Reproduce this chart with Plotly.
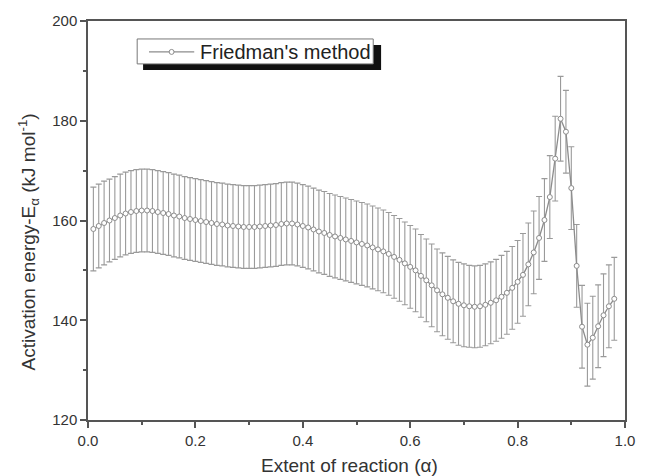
import plotly.graph_objects as go

alpha = [round(0.01 * k, 2) for k in range(1, 99)]

energy = [
    158.3, 158.9, 159.5, 160.0, 160.5, 161.0, 161.4, 161.7, 161.9, 162.0,
    162.0, 161.9, 161.7, 161.5, 161.3, 161.0, 160.8, 160.5, 160.3, 160.1,
    159.9, 159.7, 159.5, 159.3, 159.2, 159.0, 158.9, 158.8, 158.7, 158.7,
    158.7, 158.8, 158.9, 159.0, 159.1, 159.3, 159.4, 159.4, 159.2, 158.9,
    158.6, 158.2, 157.8, 157.5, 157.1, 156.8, 156.5, 156.2, 155.9, 155.6,
    155.3, 155.0, 154.6, 154.2, 153.8, 153.3, 152.7, 152.1, 151.4, 150.7,
    150.0, 148.9, 148.0, 147.0, 146.0, 145.2, 144.5, 143.8, 143.3, 143.0,
    142.8, 142.7, 142.8, 143.1, 143.5, 144.0, 144.7, 145.5, 146.5, 147.7,
    149.1, 151.2, 153.6, 156.5, 160.1, 164.7, 172.4, 180.4, 177.8, 166.5,
    150.9, 138.7, 135.1, 136.5, 138.8, 141.0, 142.8, 144.3,
]

error = [
    8.4, 8.4, 8.4, 8.3, 8.3, 8.3, 8.3, 8.3, 8.3, 8.3,
    8.3, 8.3, 8.3, 8.3, 8.3, 8.3, 8.3, 8.3, 8.3, 8.3,
    8.3, 8.3, 8.3, 8.3, 8.3, 8.3, 8.3, 8.3, 8.3, 8.3,
    8.3, 8.3, 8.3, 8.3, 8.3, 8.3, 8.3, 8.3, 8.3, 8.3,
    8.3, 8.3, 8.3, 8.3, 8.3, 8.3, 8.3, 8.3, 8.3, 8.3,
    8.3, 8.3, 8.3, 8.3, 8.3, 8.3, 8.3, 8.3, 8.3, 8.3,
    8.3, 8.3, 8.3, 8.3, 8.3, 8.3, 8.3, 8.3, 8.3, 8.3,
    8.2, 8.2, 8.2, 8.2, 8.2, 8.2, 8.3, 8.3, 8.3, 8.3,
    8.3, 8.3, 8.3, 8.3, 8.3, 8.3, 8.5, 8.5, 8.3, 8.3,
    8.3, 8.3, 8.3, 8.3, 8.3, 8.3, 8.3, 8.3,
]

x_ticks = [0.0, 0.2, 0.4, 0.6, 0.8, 1.0]
x_tick_text = ["0.0", "0.2", "0.4", "0.6", "0.8", "1.0"]
y_ticks = [120, 140, 160, 180, 200]
series_name = "Friedman's method"
x_title = "Extent of reaction (α)"
y_title = "Activation energy-E<sub>α</sub> (kJ mol<sup>-1</sup>)"

GRAY = "#8c8c8c"
AXIS = "#555555"
TXT = "#333333"
FONT = "Liberation Sans, Arial, sans-serif"

W, H = 647.0, 476.0
ML, MR, MT, MB = 88, 13, 20, 56
pw, ph = W - ML - MR, H - MT - MB


def px(xp):
    return (xp - ML) / pw


def py(yp):
    return 1 - (yp - MT) / ph


fig = go.Figure()
fig.add_trace(go.Scatter(
    x=alpha, y=energy, mode="lines+markers", name=series_name,
    line=dict(color=GRAY, width=1.3),
    marker=dict(symbol="circle", size=5, color="white",
                line=dict(color=GRAY, width=1)),
    error_y=dict(type="data", array=error, visible=True,
                 color="#9a9a9a", thickness=1.1, width=3),
    showlegend=False,
))

fig.update_layout(
    width=647, height=476,
    margin=dict(l=ML, r=MR, t=MT, b=MB),
    paper_bgcolor="white", plot_bgcolor="white",
    font=dict(family=FONT, color=TXT),
    xaxis=dict(
        range=[0, 1], tickvals=x_ticks, ticktext=x_tick_text,
        ticks="outside", ticklen=6, tickwidth=1.5, tickcolor=AXIS,
        minor=dict(dtick=0.1, ticks="outside", ticklen=3, tickwidth=1.5, tickcolor=AXIS),
        showline=True, linecolor=AXIS, linewidth=1.5, mirror=True,
        showgrid=False, zeroline=False,
        tickfont=dict(size=15, color=TXT),
    ),
    yaxis=dict(
        range=[120, 200], tickvals=y_ticks,
        ticks="outside", ticklen=6, tickwidth=1.5, tickcolor=AXIS,
        minor=dict(dtick=10, ticks="outside", ticklen=3, tickwidth=1.5, tickcolor=AXIS),
        showline=True, linecolor=AXIS, linewidth=1.5, mirror=True,
        showgrid=False, zeroline=False,
        tickfont=dict(size=15, color=TXT),
    ),
)

# Axis titles
fig.add_annotation(xref="paper", yref="paper", x=px(354), y=py(466),
                   xanchor="center", yanchor="middle", showarrow=False,
                   text=x_title, font=dict(size=19, color=TXT, family=FONT))
fig.add_annotation(xref="paper", yref="paper", x=px(27), y=py(242),
                   xanchor="center", yanchor="middle", showarrow=False,
                   textangle=-90,
                   text=y_title, font=dict(size=19, color=TXT, family=FONT))

# Legend box with drop shadow
fig.add_shape(type="rect", xref="paper", yref="paper",
              x0=px(144), x1=px(386), y0=py(69), y1=py(44),
              fillcolor="#111111", line=dict(width=0), layer="above")
fig.add_shape(type="rect", xref="paper", yref="paper",
              x0=px(138), x1=px(378), y0=py(63), y1=py(38),
              fillcolor="white", line=dict(color="#777777", width=1), layer="above")
fig.add_shape(type="line", xref="paper", yref="paper",
              x0=px(150), x1=px(196), y0=py(51), y1=py(51),
              line=dict(color=GRAY, width=1.3), layer="above")
fig.add_shape(type="circle", xref="paper", yref="paper",
              x0=px(170.5), x1=px(175.5), y0=py(53.5), y1=py(48.5),
              fillcolor="white", line=dict(color=GRAY, width=1), layer="above")
fig.add_annotation(xref="paper", yref="paper", x=px(200), y=py(51),
                   xanchor="left", yanchor="middle", showarrow=False,
                   text=series_name, font=dict(size=20, color="#222222", family=FONT))

fig.write_html("out.html")
